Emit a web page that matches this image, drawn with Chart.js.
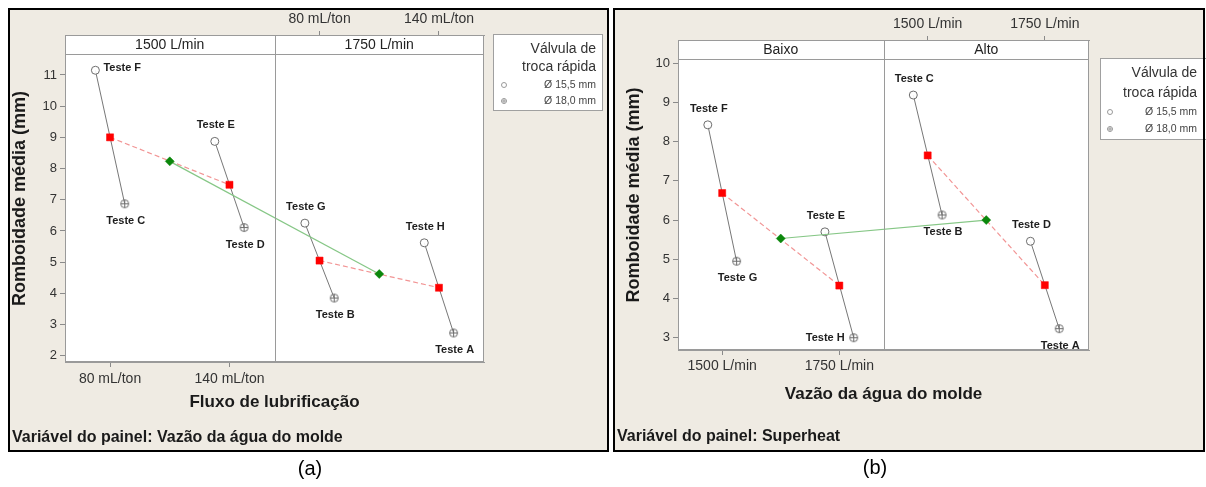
<!DOCTYPE html>
<html><head><meta charset="utf-8">
<script src="https://cdn.jsdelivr.net/npm/chart.js@4.4.0/dist/chart.umd.min.js"></script>
<style>
html,body{margin:0;padding:0;background:#fff;}
#wrap{position:relative;width:1206px;height:487px;overflow:hidden;}
#ca{position:absolute;left:0;top:0;}
#cb{position:absolute;left:610px;top:0;}
</style></head><body>
<div id="wrap"><canvas id="ca" width="610" height="487"></canvas><canvas id="cb" width="596" height="487"></canvas></div>
<script>
const FONT = '"Liberation Sans", Arial, Helvetica, sans-serif';

// ---------- Panel (a): Variável do painel = Vazão da água do molde ----------
const aPanelNames = ['1500 L/min', '1750 L/min'];
const aLevelNames = ['80 mL/ton', '140 mL/ton'];
const aLow  = [11.15, 8.87, 6.25, 5.62];   // Ø 15,5 mm
const aHigh = [6.87, 6.11, 3.85, 2.73];    // Ø 18,0 mm
const aLowTests  = ['Teste F', 'Teste E', 'Teste G', 'Teste H'];
const aHighTests = ['Teste C', 'Teste D', 'Teste B', 'Teste A'];
const aCellMeans  = [9.00, 7.48, 5.05, 4.18];
const aPanelMeans = [8.23, 4.62];
const aYTicks = [2, 3, 4, 5, 6, 7, 8, 9, 10, 11];
const aXTitle = 'Fluxo de lubrificação';
const aFooter = 'Variável do painel: Vazão da água do molde';

// ---------- Panel (b): Variável do painel = Superheat ----------
const bPanelNames = ['Baixo', 'Alto'];
const bLevelNames = ['1500 L/min', '1750 L/min'];
const bLow  = [8.43, 5.70, 9.19, 5.46];    // Ø 15,5 mm
const bHigh = [4.95, 3.00, 6.13, 3.23];    // Ø 18,0 mm
const bLowTests  = ['Teste F', 'Teste E', 'Teste C', 'Teste D'];
const bHighTests = ['Teste G', 'Teste H', 'Teste B', 'Teste A'];
const bCellMeans  = [6.69, 4.33, 7.65, 4.34];
const bPanelMeans = [5.53, 6.00];
const bYTicks = [3, 4, 5, 6, 7, 8, 9, 10];
const bXTitle = 'Vazão da água do molde';
const bFooter = 'Variável do painel: Superheat';

const yTitle = 'Romboidade média (mm)';
const legendTitle = ['Válvula de', 'troca rápida'];
const legendItems = ['Ø 15,5 mm', 'Ø 18,0 mm'];

// ---------- layout / style ----------
const LEVEL_POS = [0.43, 1.57];  // level position inside a sub-panel of width 2
const JIT = 0.14;
const BEIGE = '#efebe3';

const layoutA = {
  id: 'ca', W: 610, H: 487, plotL: 65, plotR: 484, top: 35, bottom: 362, strip: 19,
  yMin: 1.80, yMax: 12.28, yTitlePad: 9, xTitlePad: 74, xTickPad: 4, x2TickPad: 3,
  frame: [8, 8, 609, 452],
  legend: { l: 493, t: 34, r: 603, b: 111, tx: 596, sx: 504, ys: [49, 67, 85, 101] },
  footer: { x: 12, y: 438 }, tag: { text: '(a)', x: 310, y: 469 },
  placeLow: ['right', 'above', 'above', 'above'],
  placeHigh: ['below', 'below', 'below', 'below']
};
const layoutB = {
  id: 'cb', W: 596, H: 487, plotL: 68, plotR: 479, top: 40, bottom: 350, strip: 19,
  yMin: 2.686, yMax: 10.594, yTitlePad: 13, xTitlePad: 82, xTickPad: 3, x2TickPad: 3,
  frame: [3, 8, 595, 452],
  legend: { l: 490, t: 58, r: 600, b: 140, tx: 587, sx: 500, ys: [73, 93, 112, 129] },
  footer: { x: 7, y: 437 }, tag: { text: '(b)', x: 265, y: 468 },
  placeLow: ['above', 'above', 'above', 'above'],
  placeHigh: ['below', 'left', 'below', 'below']
};

function makeCross(r, color) {
  const s = 2 * r + 3, c = document.createElement('canvas');
  c.width = s; c.height = s;
  const g = c.getContext('2d');
  g.strokeStyle = color; g.lineWidth = 1;
  g.beginPath(); g.arc(s / 2, s / 2, r, 0, Math.PI * 2); g.stroke();
  g.beginPath();
  g.moveTo(s / 2 - r, s / 2); g.lineTo(s / 2 + r, s / 2);
  g.moveTo(s / 2, s / 2 - r); g.lineTo(s / 2, s / 2 + r);
  g.stroke();
  return c;
}
const CROSS = makeCross(4, '#6e6e6e');

function cellX(i) { return Math.floor(i / 2) * 2 + LEVEL_POS[i % 2]; }

function build(L, d) {
  const gray = [], lowPts = [], highPts = [], red = [], green = [];
  d.low.forEach((v, i) => {
    gray.push({ x: cellX(i) - JIT, y: v }, { x: cellX(i) + JIT, y: d.high[i] }, { x: cellX(i) + JIT + 0.01, y: null });
    lowPts.push({ x: cellX(i) - JIT, y: v });
    highPts.push({ x: cellX(i) + JIT, y: d.high[i] });
  });
  d.cellMeans.forEach((v, i) => {
    red.push({ x: cellX(i), y: v });
    if (i % 2 === 1) red.push({ x: cellX(i) + 0.01, y: null });
  });
  d.panelMeans.forEach((v, p) => green.push({ x: p * 2 + 1, y: v }));

  const framePlugin = {
    id: 'frame',
    beforeDraw(chart) {
      const ctx = chart.ctx, [fl, ft, fr, fb] = L.frame, ca = chart.chartArea;
      ctx.save();
      ctx.fillStyle = '#fff'; ctx.fillRect(0, 0, L.W, L.H);
      ctx.fillStyle = '#000'; ctx.fillRect(fl, ft, fr - fl, fb - ft);
      ctx.fillStyle = BEIGE; ctx.fillRect(fl + 2, ft + 2, fr - fl - 4, fb - ft - 4);
      ctx.fillStyle = '#fff'; ctx.fillRect(ca.left, ca.top, ca.right - ca.left, ca.bottom - ca.top);
      ctx.restore();
    },
    afterDatasetsDraw(chart) {
      const ctx = chart.ctx;
      ctx.save();
      ctx.font = 'bold 11px ' + FONT; ctx.fillStyle = '#1e1e1e';
      const put = (el, text, place) => {
        let x = el.x, y = el.y;
        ctx.textBaseline = 'middle';
        if (place === 'right') { ctx.textAlign = 'left'; x += 8; y -= 2; }
        else if (place === 'left') { ctx.textAlign = 'right'; x -= 9; }
        else if (place === 'above') { ctx.textAlign = 'center'; y -= 16; x += 1; }
        else { ctx.textAlign = 'center'; y += 17; x += 1; }
        ctx.fillText(text, x, y);
      };
      const mLow = chart.getDatasetMeta(2).data, mHigh = chart.getDatasetMeta(3).data;
      d.lowTests.forEach((t, i) => put(mLow[i], t, L.placeLow[i]));
      d.highTests.forEach((t, i) => put(mHigh[i], t, L.placeHigh[i]));
      ctx.restore();
    },
    afterDraw(chart) {
      const ctx = chart.ctx, ca = chart.chartArea, xs = chart.scales.x;
      const left = Math.round(ca.left), right = Math.round(ca.right), top = Math.round(ca.top), bottom = Math.round(ca.bottom);
      ctx.save();
      // strip band
      ctx.fillStyle = '#fff';
      ctx.fillRect(left, top, right - left, L.strip);
      ctx.strokeStyle = '#9a9a9a'; ctx.lineWidth = 1;
      ctx.beginPath(); ctx.moveTo(left, top + L.strip + 0.5); ctx.lineTo(right, top + L.strip + 0.5); ctx.stroke();
      ctx.fillStyle = '#222'; ctx.font = '14px ' + FONT;
      ctx.textAlign = 'center'; ctx.textBaseline = 'middle';
      d.panels.forEach((name, p) => {
        const x0 = xs.getPixelForValue(p * 2), x1 = xs.getPixelForValue(p * 2 + 2);
        ctx.fillText(name, (x0 + x1) / 2, top + L.strip / 2 + 1);
      });
      // plot border + divider
      ctx.strokeRect(left + 0.5, top + 0.5, right - left - 1, bottom - top - 1);
      const xd = Math.round(xs.getPixelForValue(2)) + 0.5;
      ctx.beginPath(); ctx.moveTo(xd, top); ctx.lineTo(xd, bottom); ctx.stroke();
      // legend
      const lg = L.legend;
      ctx.fillStyle = '#fff'; ctx.fillRect(lg.l, lg.t, lg.r - lg.l, lg.b - lg.t);
      ctx.strokeStyle = '#a0a0a0'; ctx.strokeRect(lg.l + 0.5, lg.t + 0.5, lg.r - lg.l - 1, lg.b - lg.t - 1);
      ctx.textAlign = 'right'; ctx.textBaseline = 'middle';
      ctx.fillStyle = '#333'; ctx.font = '14px ' + FONT;
      ctx.fillText(legendTitle[0], lg.tx, lg.ys[0]);
      ctx.fillText(legendTitle[1], lg.tx, lg.ys[1]);
      ctx.font = '10.5px ' + FONT; ctx.fillStyle = '#444';
      ctx.fillText(legendItems[0], lg.tx, lg.ys[2]);
      ctx.fillText(legendItems[1], lg.tx, lg.ys[3]);
      ctx.strokeStyle = '#9a9a9a'; ctx.lineWidth = 1;
      ctx.beginPath(); ctx.arc(lg.sx, lg.ys[2], 2.5, 0, Math.PI * 2); ctx.stroke();
      ctx.beginPath(); ctx.arc(lg.sx, lg.ys[3], 2.5, 0, Math.PI * 2);
      ctx.moveTo(lg.sx - 2.5, lg.ys[3]); ctx.lineTo(lg.sx + 2.5, lg.ys[3]);
      ctx.moveTo(lg.sx, lg.ys[3] - 2.5); ctx.lineTo(lg.sx, lg.ys[3] + 2.5); ctx.stroke();
      // frame right edge redraw (legend may overlap)
      const [fl, ft, fr, fb] = L.frame;
      ctx.fillStyle = '#000'; ctx.fillRect(fr - 2, ft, 2, fb - ft);
      // footer + tag
      ctx.textAlign = 'left'; ctx.fillStyle = '#1a1a1a'; ctx.font = 'bold 16px ' + FONT;
      ctx.fillText(d.footer, L.footer.x, L.footer.y);
      ctx.textAlign = 'center'; ctx.fillStyle = '#000'; ctx.font = '20px ' + FONT;
      ctx.fillText(L.tag.text, L.tag.x, L.tag.y);
      ctx.restore();
    }
  };

  const tickFont = { family: FONT, size: 14 };
  return new Chart(document.getElementById(L.id), {
    type: 'line',
    data: {
      datasets: [
        { data: green, borderColor: '#86c786', borderWidth: 1.2, pointStyle: 'rectRot', pointRadius: 4.5,
          pointBackgroundColor: '#0b870b', pointBorderColor: '#0b870b', pointBorderWidth: 0.5 },
        { data: red, borderColor: '#f29595', borderWidth: 1.2, borderDash: [5, 3], pointStyle: 'rect', pointRadius: 5,
          pointBackgroundColor: '#ff0000', pointBorderColor: '#ff0000', pointBorderWidth: 0.5, spanGaps: false },
        { data: lowPts, showLine: false, pointStyle: 'circle', pointRadius: 4, pointBackgroundColor: 'rgba(255,255,255,0.9)',
          pointBorderColor: '#6e6e6e', pointBorderWidth: 1 },
        { data: highPts, showLine: false, pointStyle: CROSS, pointRadius: 4 },
        { data: gray, borderColor: '#777', borderWidth: 1, pointRadius: 0, spanGaps: false }
      ]
    },
    options: {
      responsive: false, animation: false, devicePixelRatio: 1,
      layout: { padding: { left: 0, top: 0, right: L.W - L.plotR, bottom: 0 } },
      plugins: { legend: { display: false }, tooltip: { enabled: false } },
      scales: {
        x: {
          type: 'linear', position: 'bottom', min: 0, max: 4,
          afterBuildTicks: s => { s.ticks = LEVEL_POS.map(v => ({ value: v })); },
          afterFit: s => { s.height = L.H - L.bottom; },
          ticks: { callback: (v, i) => d.levels[i], autoSkip: false, maxRotation: 0, padding: L.xTickPad, color: '#333', font: tickFont },
          grid: { drawOnChartArea: false, tickLength: 5, color: '#8a8a8a' },
          border: { display: true, color: '#9a9a9a' },
          title: { display: true, text: d.xTitle, color: '#1a1a1a', font: { family: FONT, size: 17, weight: 'bold' }, padding: { top: 0, bottom: L.xTitlePad } }
        },
        x2: {
          type: 'linear', position: 'top', min: 0, max: 4,
          afterBuildTicks: s => { s.ticks = LEVEL_POS.map(v => ({ value: v + 2 })); },
          afterFit: s => { s.height = L.top; },
          ticks: { callback: (v, i) => d.levels[i], autoSkip: false, maxRotation: 0, padding: L.x2TickPad, color: '#333', font: tickFont },
          grid: { drawOnChartArea: false, tickLength: 4, color: '#8a8a8a' },
          border: { display: true, color: '#9a9a9a' }
        },
        y: {
          type: 'linear', position: 'left', min: L.yMin, max: L.yMax,
          afterBuildTicks: s => { s.ticks = d.yTicks.map(v => ({ value: v })); },
          afterFit: s => { s.width = L.plotL; },
          ticks: { padding: 3, color: '#333', font: { family: FONT, size: 13 } },
          grid: { drawOnChartArea: false, tickLength: 5, color: '#8a8a8a' },
          border: { display: true, color: '#9a9a9a' },
          title: { display: true, text: yTitle, color: '#1a1a1a', font: { family: FONT, size: 18, weight: 'bold' }, padding: { top: L.yTitlePad, bottom: 0 } }
        }
      }
    },
    plugins: [framePlugin]
  });
}

build(layoutA, { panels: aPanelNames, levels: aLevelNames, low: aLow, high: aHigh, lowTests: aLowTests, highTests: aHighTests,
  cellMeans: aCellMeans, panelMeans: aPanelMeans, yTicks: aYTicks, xTitle: aXTitle, footer: aFooter });
build(layoutB, { panels: bPanelNames, levels: bLevelNames, low: bLow, high: bHigh, lowTests: bLowTests, highTests: bHighTests,
  cellMeans: bCellMeans, panelMeans: bPanelMeans, yTicks: bYTicks, xTitle: bXTitle, footer: bFooter });
</script>
</body></html>
